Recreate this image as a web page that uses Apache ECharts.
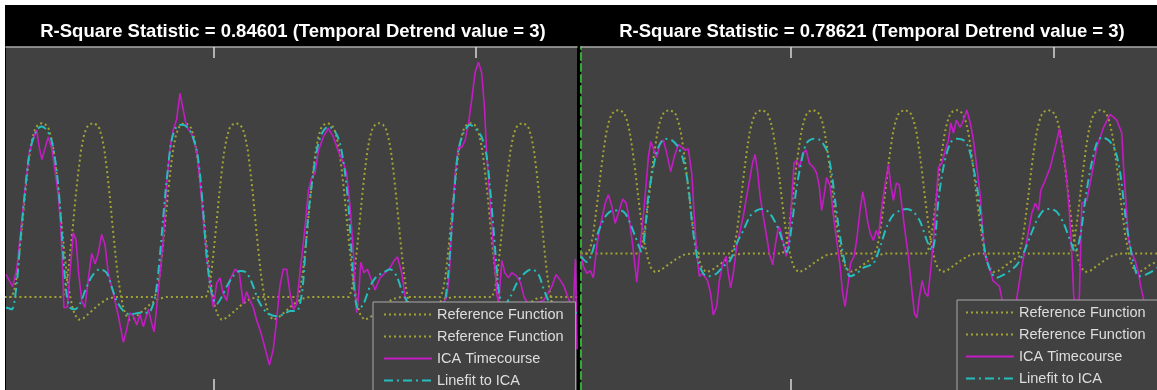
<!DOCTYPE html>
<html>
<head>
<meta charset="utf-8">
<script src="https://cdn.jsdelivr.net/npm/echarts@6/dist/echarts.min.js"></script>
<style>
  body { margin: 0; background: #fff; }
  #frame { position: absolute; left: 5px; top: 5px; width: 1152px; height: 385px; background: #000; }
  #chart { position: absolute; left: 0; top: 0; width: 1157px; height: 390px; }
</style>
</head>
<body>
<div id="frame"></div>
<div id="chart"></div>
<script>
// scan index on x, signal in units of the reference peak on y
const titles = [
  'R-Square Statistic = 0.84601 (Temporal Detrend value = 3)',
  'R-Square Statistic = 0.78621 (Temporal Detrend value = 3)'
];
const legendNames = ['Reference Function', 'Reference Function ', 'ICA Timecourse', 'Linefit to ICA'];
const tickValues = [100, 200];

// reference function for task 1 (shared by both panels)
const refA = [
  [20, 0], [22.8, 0], [23.8, 0.04], [24.8, 0.13], [25.8, 0.27], [26.8, 0.42], [27.8, 0.58], [28.8, 0.72], [29.8, 0.84], [30.8, 0.92], [31.8, 0.97], [32.8, 0.99], [34.3, 1.0], [35.8, 0.99], [36.8, 0.97], [37.8, 0.92], [38.8, 0.84], [39.8, 0.72], [40.8, 0.58], [41.8, 0.42], [42.8, 0.27], [43.8, 0.13], [44.8, 0.03], [45.8, -0.05], [46.8, -0.10], [48.3, -0.13], [50.3, -0.12], [53.3, -0.08], [56.3, -0.04], [59.3, -0.01], [62.3, 0],
  [77.3, 0], [78.3, 0.04], [79.3, 0.13], [80.3, 0.27], [81.3, 0.42], [82.3, 0.58], [83.3, 0.72], [84.3, 0.84], [85.3, 0.92], [86.3, 0.97], [87.3, 0.99], [88.8, 1.0], [90.3, 0.99], [91.3, 0.97], [92.3, 0.92], [93.3, 0.84], [94.3, 0.72], [95.3, 0.58], [96.3, 0.42], [97.3, 0.27], [98.3, 0.13], [99.3, 0.03], [100.3, -0.05], [101.3, -0.10], [102.8, -0.13], [104.8, -0.12], [107.8, -0.08], [110.8, -0.04], [113.8, -0.01], [116.8, 0],
  [131.8, 0], [132.8, 0.04], [133.8, 0.13], [134.8, 0.27], [135.8, 0.42], [136.8, 0.58], [137.8, 0.72], [138.8, 0.84], [139.8, 0.92], [140.8, 0.97], [141.8, 0.99], [143.3, 1.0], [144.8, 0.99], [145.8, 0.97], [146.8, 0.92], [147.8, 0.84], [148.8, 0.72], [149.8, 0.58], [150.8, 0.42], [151.8, 0.27], [152.8, 0.13], [153.8, 0.03], [154.8, -0.05], [155.8, -0.10], [157.3, -0.13], [159.3, -0.12], [162.3, -0.08], [165.3, -0.04], [168.3, -0.01], [171.3, 0],
  [186.4, 0], [187.4, 0.04], [188.4, 0.13], [189.4, 0.27], [190.4, 0.42], [191.4, 0.58], [192.4, 0.72], [193.4, 0.84], [194.4, 0.92], [195.4, 0.97], [196.4, 0.99], [197.9, 1.0], [199.4, 0.99], [200.4, 0.97], [201.4, 0.92], [202.4, 0.84], [203.4, 0.72], [204.4, 0.58], [205.4, 0.42], [206.4, 0.27], [207.4, 0.13], [208.4, 0.03], [209.4, -0.05], [210.4, -0.10], [211.9, -0.13], [213.9, -0.12], [216.9, -0.08], [219.9, -0.04], [222.9, -0.01], [225.9, 0], [240, 0]
];

// reference function for task 2
const refB = [
  [20, 0], [42.2, 0], [43.2, 0.04], [44.2, 0.13], [45.2, 0.27], [46.2, 0.42], [47.2, 0.58], [48.2, 0.72], [49.2, 0.84], [50.2, 0.92], [51.2, 0.97], [52.2, 0.99], [53.7, 1.0], [55.2, 0.99], [56.2, 0.97], [57.2, 0.92], [58.2, 0.84], [59.2, 0.72], [60.2, 0.58], [61.2, 0.42], [62.2, 0.27], [63.2, 0.13], [64.2, 0.03], [65.2, -0.05], [66.2, -0.10], [67.7, -0.13], [69.7, -0.12], [72.7, -0.08], [75.7, -0.04], [78.7, -0.01], [81.7, 0],
  [96.9, 0], [97.9, 0.04], [98.9, 0.13], [99.9, 0.27], [100.9, 0.42], [101.9, 0.58], [102.9, 0.72], [103.9, 0.84], [104.9, 0.92], [105.9, 0.97], [106.9, 0.99], [108.4, 1.0], [109.9, 0.99], [110.9, 0.97], [111.9, 0.92], [112.9, 0.84], [113.9, 0.72], [114.9, 0.58], [115.9, 0.42], [116.9, 0.27], [117.9, 0.13], [118.9, 0.03], [119.9, -0.05], [120.9, -0.10], [122.4, -0.13], [124.4, -0.12], [127.4, -0.08], [130.4, -0.04], [133.4, -0.01], [136.4, 0],
  [151.5, 0], [152.5, 0.04], [153.5, 0.13], [154.5, 0.27], [155.5, 0.42], [156.5, 0.58], [157.5, 0.72], [158.5, 0.84], [159.5, 0.92], [160.5, 0.97], [161.5, 0.99], [163.0, 1.0], [164.5, 0.99], [165.5, 0.97], [166.5, 0.92], [167.5, 0.84], [168.5, 0.72], [169.5, 0.58], [170.5, 0.42], [171.5, 0.27], [172.5, 0.13], [173.5, 0.03], [174.5, -0.05], [175.5, -0.10], [177.0, -0.13], [179.0, -0.12], [182.0, -0.08], [185.0, -0.04], [188.0, -0.01], [191.0, 0],
  [206.1, 0], [207.1, 0.04], [208.1, 0.13], [209.1, 0.27], [210.1, 0.42], [211.1, 0.58], [212.1, 0.72], [213.1, 0.84], [214.1, 0.92], [215.1, 0.97], [216.1, 0.99], [217.6, 1.0], [219.1, 0.99], [220.1, 0.97], [221.1, 0.92], [222.1, 0.84], [223.1, 0.72], [224.1, 0.58], [225.1, 0.42], [226.1, 0.27], [227.1, 0.13], [228.1, 0.03], [229.1, -0.05], [230.1, -0.10], [231.6, -0.13], [233.6, -0.12], [236.6, -0.08], [240, -0.05]
];

const leftIca = [
  [20.6, 0.13], [23.1, 0.06], [24.7, 0.16], [25.9, 0.33], [27.8, 0.61], [29.5, 0.83], [31.0, 0.91], [32.3, 0.96], [33.3, 0.86], [34.3, 0.79], [35.6, 0.86], [36.7, 0.92], [38.0, 0.86], [39.3, 0.73], [40.6, 0.58], [41.5, 0.40], [42.1, 0.21], [42.7, -0.06], [44.0, -0.06], [45.0, 0.14], [46.3, 0.37], [47.3, 0.33], [48.3, 0.14], [49.5, -0.02], [50.7, -0.06], [52.0, 0.10], [53.3, 0.25], [54.6, 0.19], [55.8, 0.25], [57.1, 0.36], [58.4, 0.30], [59.6, 0.14], [61.6, 0.02], [63.5, -0.11], [65.4, -0.26], [66.6, -0.19], [67.9, -0.09], [69.2, -0.11], [70.5, -0.16], [71.7, -0.10], [73.0, -0.17], [74.9, -0.07], [76.2, -0.15], [77.1, -0.20], [78.1, -0.06], [79.4, 0.14], [80.6, 0.33], [81.9, 0.65], [83.2, 0.86], [84.4, 0.96], [85.7, 1.02], [87.0, 1.17], [88.3, 1.07], [89.5, 0.98], [91.4, 0.94], [93.4, 0.84], [94.6, 0.67], [95.9, 0.44], [97.2, 0.23], [98.4, 0.08], [99.7, -0.06],
  [101.0, 0.08], [102.3, 0.11], [103.5, 0.02], [104.8, -0.02], [106.1, 0.10], [108.0, 0.16], [109.6, 0.14], [111.2, -0.04], [112.4, 0.03], [113.7, -0.02], [115.0, -0.06], [116.2, -0.13], [117.8, -0.20], [119.4, -0.29], [121.1, -0.39], [122.6, -0.30], [123.9, -0.13], [125.1, 0.06], [126.4, 0.16], [127.7, 0.16], [129.0, 0.02], [130.3, -0.07], [131.5, -0.04], [132.8, 0.14], [134.7, 0.40], [136.0, 0.61], [137.3, 0.69], [138.5, 0.71], [139.8, 0.84], [141.7, 0.92], [143.6, 0.97], [145.5, 0.92], [147.4, 0.84], [149.4, 0.77], [150.6, 0.71], [151.9, 0.52], [153.2, 0.25], [153.9, 0.02], [154.4, -0.09], [155.2, 0.02], [156.0, 0.20], [157.2, 0.14], [158.5, 0.16], [159.8, 0.11], [161.4, 0.04], [163.3, 0.11], [165.3, 0.14], [167.2, 0.17], [168.7, 0.21], [170.0, 0.23], [171.6, 0.14], [172.9, 0.00],
  [175.0, -0.15], [177.0, -0.30], [179.0, -0.20], [181.0, -0.12], [183.0, -0.06], [186.0, -0.08], [188.8, 0.00], [189.8, 0.14], [190.7, 0.40], [192.0, 0.71], [193.2, 0.86], [194.5, 0.86], [195.8, 0.90], [197.1, 1.00], [198.3, 1.13], [199.6, 1.29], [200.9, 1.35], [202.1, 1.29], [203.2, 1.09], [204.0, 0.84], [205.3, 0.56], [206.6, 0.29], [207.9, 0.02], [208.6, -0.04], [209.8, 0.21], [211.0, 0.14], [212.3, 0.11], [213.6, 0.14], [215.5, 0.12], [217.0, 0.08], [218.3, 0.00], [219.9, -0.04], [221.9, -0.04], [225.7, -0.02], [228.9, 0.06], [230.5, 0.13], [232.0, 0.10], [233.6, 0.06], [235.2, -0.01], [237.1, -0.06], [237.9, 0.22], [238.5, -0.30]
];

const leftFit = [
  [20.6, -0.06], [22.8, -0.07], [24.7, 0.08], [25.9, 0.29], [27.8, 0.60], [29.7, 0.84], [32.3, 0.96], [34.2, 0.98], [36.1, 0.96], [38.0, 0.90], [39.9, 0.73], [41.2, 0.52], [42.5, 0.23], [43.7, 0.02], [45.0, -0.06], [46.9, -0.07], [48.8, -0.04], [51.4, 0.06], [53.9, 0.13], [56.5, 0.16], [59.0, 0.14], [60.9, 0.06], [62.8, -0.02], [65.4, -0.08], [67.9, -0.10], [71.7, -0.09], [74.9, -0.09], [76.8, -0.04], [78.1, 0.06], [79.4, 0.25], [80.6, 0.46], [81.9, 0.67], [83.8, 0.90], [85.7, 0.98], [87.6, 0.99], [89.5, 0.98], [91.4, 0.94], [93.4, 0.84], [94.6, 0.71], [95.9, 0.48], [97.2, 0.23], [99.1, 0.02],
  [101.0, -0.04], [102.9, 0.00], [104.8, 0.06], [107.3, 0.12], [109.9, 0.15], [112.4, 0.14], [115.0, 0.06], [116.9, -0.02], [120.1, -0.09], [123.9, -0.11], [126.4, -0.10], [129.0, -0.08], [131.5, -0.08], [133.5, 0.02], [134.7, 0.23], [136.0, 0.48], [137.3, 0.65], [139.2, 0.84], [141.1, 0.94], [143.6, 0.98], [146.2, 0.95], [148.1, 0.88], [150.0, 0.71], [151.3, 0.52], [152.5, 0.25], [153.8, 0.00], [155.1, -0.07], [157.0, -0.04], [159.5, 0.06], [162.1, 0.12], [164.6, 0.14], [167.2, 0.16], [169.7, 0.12], [171.6, 0.04], [173.5, -0.02],
  [176.0, -0.07], [180.0, -0.10], [184.0, -0.09], [186.5, -0.05], [188.1, -0.02], [189.4, 0.14], [190.7, 0.40], [192.0, 0.67], [193.2, 0.84], [195.1, 0.94], [197.7, 0.99], [200.2, 0.96], [202.1, 0.92], [204.0, 0.81], [205.3, 0.63], [206.6, 0.40], [207.9, 0.16], [209.1, 0.00], [211.0, -0.04], [213.0, 0.00], [215.5, 0.08], [218.0, 0.13], [221.2, 0.16], [223.8, 0.13], [225.7, 0.05], [227.6, -0.02], [230.0, -0.07], [234.0, -0.10], [238.5, -0.09]
];

const rightIca = [
  [20.2, 0.00], [21.1, -0.09], [22.4, -0.14], [23.7, -0.12], [24.9, -0.17], [26.2, 0.05], [27.5, 0.19], [29.4, 0.35], [30.6, 0.41], [31.9, 0.33], [33.2, 0.21], [34.4, 0.28], [36.1, 0.38], [37.4, 0.35], [38.6, 0.23], [39.9, 0.05], [41.4, -0.20], [42.0, -0.09], [42.9, 0.09], [44.0, 0.28], [45.0, 0.49], [45.8, 0.67], [46.7, 0.78], [48.0, 0.72], [49.0, 0.67], [50.3, 0.77], [51.5, 0.79], [52.8, 0.70], [54.3, 0.57], [55.6, 0.67], [57.2, 0.76], [58.5, 0.74], [59.8, 0.72], [61.0, 0.73], [62.3, 0.56], [63.2, 0.28], [64.2, 0.00], [65.2, -0.16], [66.5, -0.14], [68.3, -0.19], [69.5, -0.28], [70.5, -0.43], [71.8, -0.37], [72.8, -0.19], [74.1, -0.07], [75.4, -0.02], [76.2, -0.14], [77.1, -0.24], [78.1, -0.14], [79.4, 0.05], [80.7, 0.16], [81.9, 0.26], [83.2, 0.40], [84.5, 0.53], [85.4, 0.63], [86.4, 0.69], [87.3, 0.58], [88.3, 0.40], [89.3, 0.28], [90.6, 0.14], [91.8, 0.00], [93.1, -0.08], [94.0, 0.05], [95.3, 0.19], [96.1, 0.16], [97.2, 0.07], [98.2, -0.02], [99.1, 0.05],
  [100.3, 0.37], [101.2, 0.63], [102.2, 0.65], [103.2, 0.60], [104.5, 0.70], [105.8, 0.72], [107.0, 0.63], [108.6, 0.60], [109.8, 0.56], [110.8, 0.47], [111.7, 0.30], [112.6, 0.40], [113.6, 0.53], [114.9, 0.47], [116.2, 0.26], [117.4, 0.09], [118.7, -0.09], [119.7, -0.28], [120.6, -0.37], [121.9, -0.19], [122.7, -0.07], [124.0, -0.02], [125.0, 0.09], [126.3, 0.30], [127.3, 0.43], [128.3, 0.33], [129.2, 0.22], [130.2, 0.14], [131.4, 0.09], [132.4, 0.16], [133.3, 0.12], [134.6, 0.33], [135.9, 0.49], [137.1, 0.62], [138.0, 0.47], [139.0, 0.37], [140.1, 0.49], [141.2, 0.48], [142.2, 0.33], [143.5, 0.14], [144.7, -0.02], [146.0, -0.26], [147.0, -0.42], [147.9, -0.45], [148.9, -0.30], [149.9, -0.19], [151.1, -0.28], [152.1, -0.30], [153.0, -0.14], [154.2, 0.09], [155.5, 0.44], [156.1, 0.60], [157.4, 0.63], [158.7, 0.72], [159.9, 0.79], [160.8, 0.91], [161.8, 0.84], [162.9, 0.93], [164.4, 0.88], [165.6, 0.93], [166.9, 1.00], [168.2, 0.91], [169.4, 0.79], [170.7, 0.60], [172.0, 0.40], [173.0, 0.14], [173.9, -0.02], [175.5, -0.09], [176.8, -0.19], [178.1, -0.21], [179.3, -0.23], [180.6, -0.35],
  [182.5, -0.60], [184.5, -0.55], [185.9, -0.31], [187.8, -0.09], [189.7, 0.09], [191.6, 0.28], [192.9, 0.35], [194.2, 0.30], [195.0, 0.44], [196.7, 0.51], [198.6, 0.60], [200.5, 0.74], [202.1, 0.87], [203.4, 0.72], [204.7, 0.56], [205.9, 0.28], [206.8, 0.00], [207.5, -0.28], [208.3, -0.45], [209.7, -0.30], [210.6, 0.35], [212.5, 0.37], [214.0, 0.51], [216.3, 0.74], [218.9, 0.88], [221.4, 0.97], [223.9, 0.93], [225.8, 0.84], [226.5, 0.60], [227.5, 0.33], [228.4, 0.09], [229.6, 0.00], [230.9, -0.05], [232.2, -0.14], [233.0, -0.23], [234.0, -0.31], [236.0, -0.50], [239.2, -0.60]
];

const rightFit = [
  [20.2, -0.02], [22.4, -0.06], [24.3, 0.00], [26.2, 0.12], [28.1, 0.21], [30.0, 0.27], [32.5, 0.30], [35.1, 0.30], [37.0, 0.28], [38.9, 0.21], [40.8, 0.12], [43.3, 0.01], [44.6, 0.16], [45.8, 0.40], [47.7, 0.60], [49.6, 0.74], [52.2, 0.80], [54.7, 0.79], [57.2, 0.74], [59.1, 0.65], [61.0, 0.47], [62.3, 0.23], [63.6, 0.05], [64.8, -0.06], [66.7, -0.14], [68.6, -0.16], [71.8, -0.14], [74.3, -0.09], [76.9, -0.05], [79.4, 0.07], [81.9, 0.16], [84.5, 0.26], [87.0, 0.30], [88.9, 0.31], [91.5, 0.29], [94.0, 0.22], [95.9, 0.14], [98.4, 0.01],
  [100.3, 0.19], [102.0, 0.44], [104.1, 0.65], [106.0, 0.77], [108.6, 0.80], [111.1, 0.79], [113.6, 0.72], [115.5, 0.56], [116.8, 0.37], [118.1, 0.19], [119.3, 0.05], [120.6, -0.07], [122.5, -0.16], [125.0, -0.14], [127.6, -0.10], [129.0, -0.09], [131.4, -0.07], [134.0, 0.05], [136.5, 0.19], [139.0, 0.27], [141.6, 0.30], [144.1, 0.31], [146.6, 0.29], [149.2, 0.22], [151.7, 0.09], [153.6, 0.02], [154.9, 0.12], [156.1, 0.37], [158.0, 0.60], [160.6, 0.77], [163.1, 0.80], [165.6, 0.79], [167.5, 0.74], [169.4, 0.60], [171.3, 0.40], [172.6, 0.19], [173.9, 0.00], [175.8, -0.12], [178.3, -0.17], [180.8, -0.15], [183.4, -0.12], [185.9, -0.08], [188.4, 0.00],
  [191.0, 0.12], [193.5, 0.23], [196.0, 0.30], [198.6, 0.31], [201.1, 0.29], [203.7, 0.21], [206.2, 0.09], [208.1, 0.01], [210.0, 0.12], [211.9, 0.37], [213.8, 0.58], [216.3, 0.77], [218.2, 0.81], [220.8, 0.79], [223.3, 0.72], [225.2, 0.56], [226.5, 0.37], [227.7, 0.19], [229.0, 0.05], [230.3, -0.07], [232.2, -0.16], [234.7, -0.15], [237.8, -0.12], [239.2, -0.10]
];

const xRanges = [[20.6, 238.5], [20.2, 239.2]];
const yRanges = [[-0.534, 1.437], [-0.953, 1.44]];

const colors = {
  ref: '#a3a332',
  ica: '#c41cc4',
  fit: '#25bdbd',
  plot: '#414141',
  box: '#a9a9a9',
  text: '#dedede'
};
const font = '"Liberation Sans", Arial, sans-serif';

function xAxisPair(i) {
  const base = {
    type: 'value',
    gridIndex: i,
    min: xRanges[i][0],
    max: xRanges[i][1],
    axisLabel: { show: false },
    splitLine: { show: false },
    axisTick: {
      show: true,
      inside: true,
      customValues: tickValues,
      length: 11,
      lineStyle: { color: '#d8d8d8', width: 1.5 }
    }
  };
  return [
    Object.assign({}, base, { position: 'bottom', axisLine: { show: false, onZero: false } }),
    Object.assign({}, base, {
      position: 'top',
      axisLine: { show: true, onZero: false, lineStyle: { color: colors.box, width: 1.5 } }
    })
  ];
}

function yAxis(i) {
  return {
    type: 'value',
    gridIndex: i,
    min: yRanges[i][0],
    max: yRanges[i][1],
    axisLabel: { show: false },
    axisTick: { show: false },
    splitLine: { show: false },
    axisLine: {
      show: i === 1,
      onZero: false,
      // cursor line at the left edge of the second plot
      lineStyle: { color: '#2fae2f', width: 2, type: [7, 4] }
    }
  };
}

function panelSeries(i, ica, fit) {
  const xi = i * 2;
  const common = { type: 'line', xAxisIndex: xi, yAxisIndex: i, symbol: 'none', animation: false, silent: true };
  return [
    Object.assign({ name: legendNames[0], data: refA, lineStyle: { color: colors.ref, width: 2, type: [2, 3] } }, common),
    Object.assign({ name: legendNames[1], data: refB, lineStyle: { color: colors.ref, width: 2, type: [2, 3] } }, common),
    Object.assign({ name: legendNames[2], data: ica, lineStyle: { color: colors.ica, width: 1.6 } }, common),
    Object.assign({ name: legendNames[3], data: fit, smooth: 0.3, lineStyle: { color: colors.fit, width: 2, type: [9, 4, 2, 4] } }, common)
  ].map(s => Object.assign(s, { itemStyle: { color: s.lineStyle.color } }));
}

function legend(left, top, padLeft) {
  return {
    orient: 'vertical',
    left: left,
    top: top,
    // fixed box height so the four rows stay in one column
    height: 120,
    padding: [5, 8, 6, padLeft],
    itemWidth: 48,
    itemHeight: 14,
    itemGap: 7,
    selectedMode: false,
    backgroundColor: colors.plot,
    borderColor: colors.box,
    borderWidth: 1,
    borderRadius: 0,
    // only the line sample, no marker in the middle
    itemStyle: { opacity: 0 },
    data: legendNames,
    textStyle: { color: colors.text, fontSize: 14.5, fontFamily: font }
  };
}

const chart = echarts.init(document.getElementById('chart'), null, { renderer: 'canvas' });
chart.setOption({
  animation: false,
  title: titles.map((t, i) => ({
    text: t,
    left: i === 0 ? 293 : 872,
    top: 22,
    padding: 0,
    textAlign: 'center',
    textStyle: { color: '#ffffff', fontSize: 18.5, fontWeight: 'bold', fontFamily: font }
  })),
  grid: [
    { left: 6, top: 47, width: 571, bottom: 0, show: true, backgroundColor: colors.plot, borderWidth: 0 },
    { left: 581, top: 47, right: 0, bottom: 0, show: true, backgroundColor: colors.plot, borderWidth: 0 }
  ],
  xAxis: xAxisPair(0).concat(xAxisPair(1)),
  yAxis: [yAxis(0), yAxis(1)],
  legend: [legend(373, 302, 10), legend(957, 300, 8)],
  series: panelSeries(0, leftIca, leftFit).concat(panelSeries(1, rightIca, rightFit))
});
</script>
</body>
</html>
